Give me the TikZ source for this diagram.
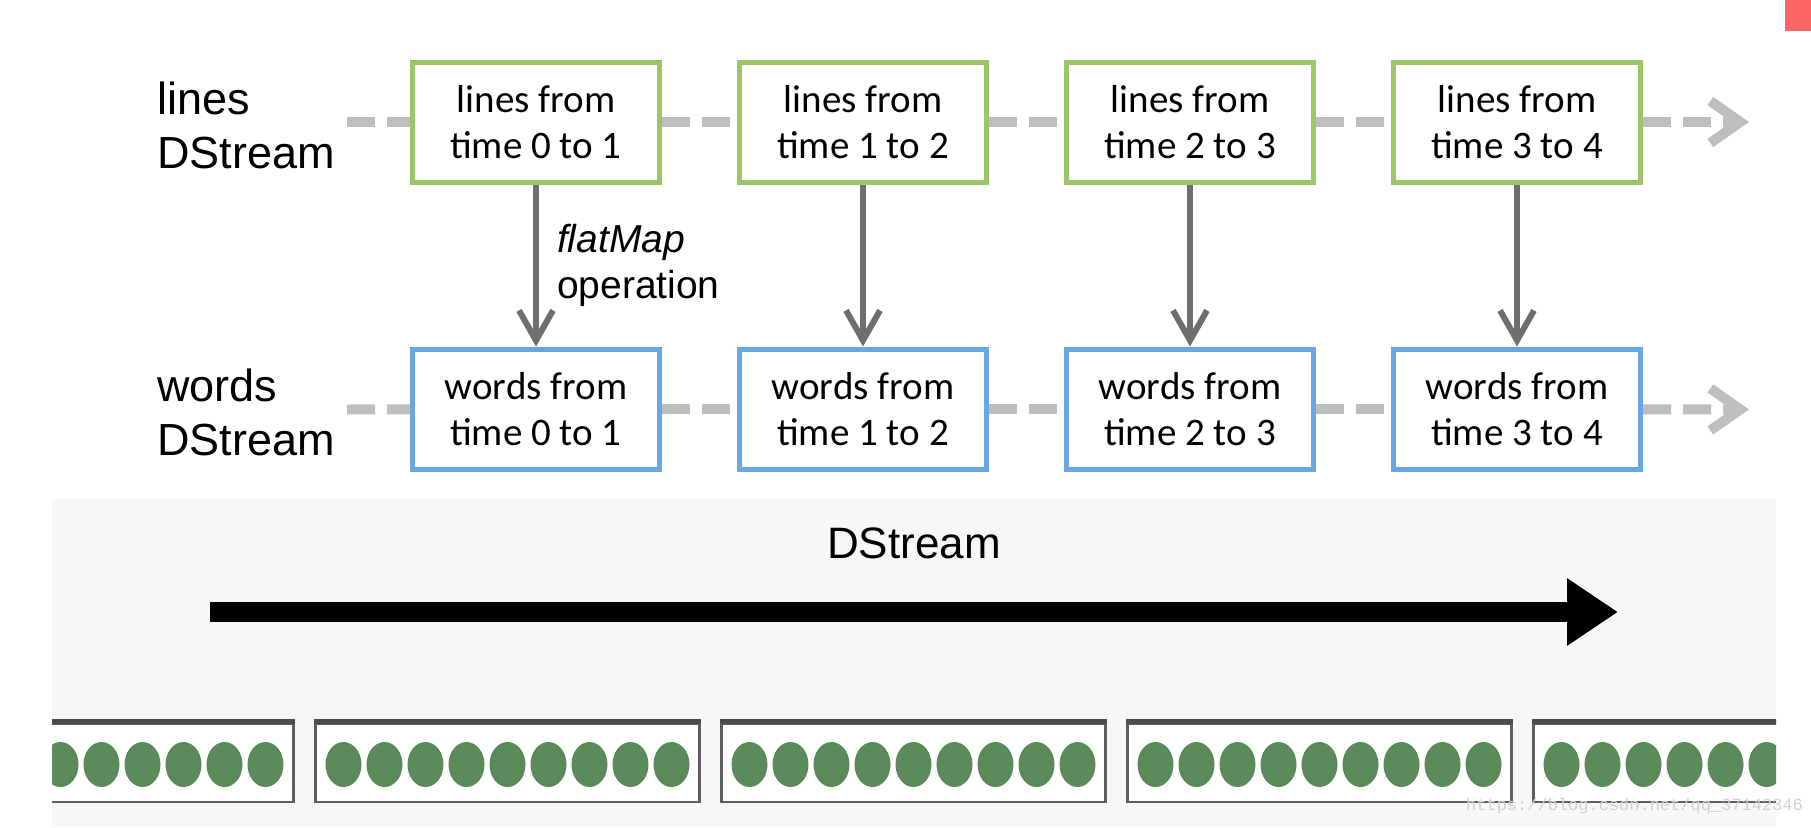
\documentclass[tikz,border=0pt]{standalone}
\usepackage{xcolor}
\usepackage{fontspec}
\setmainfont{Liberation Sans}
\newfontfamily\boxfont{Carlito}
\newfontfamily\markfont{Liberation Mono}
\usepackage{tikz}
\usetikzlibrary{positioning,arrows.meta}
\definecolor{linegreen}{HTML}{9DC56A}
\definecolor{wordblue}{HTML}{6AA6E2}
\definecolor{dashgray}{HTML}{BEBEBE}
\definecolor{opgray}{HTML}{6E6E6E}
\definecolor{panelbg}{HTML}{F8F7F5}
\definecolor{dotgreen}{HTML}{5A8A5A}
\definecolor{rddframe}{HTML}{5E5E5E}
\tikzset{
  linebox/.style={draw=linegreen, line width=5pt, fill=white, align=center,
    minimum width=247pt, minimum height=120pt, inner sep=0pt,
    font=\boxfont\fontsize{39}{46}\selectfont},
  wordbox/.style={linebox, draw=wordblue},
  streamlbl/.style={align=left, inner sep=0pt, font=\fontsize{45}{54}\selectfont},
  dstream/.style={-{Straight Barb[length=30pt,width=42pt]}, dashgray, line width=10pt,
    dash pattern=on 28pt off 12pt},
  opline/.style={-{Straight Barb[length=30pt,width=34pt]}, opgray, line width=6pt}
}

\begin{document}
\begin{tikzpicture}[
            x=1pt, y=-1pt,
            node distance=162pt and 75pt,
            oplbl/.style={anchor=west, inner sep=0pt, xshift=18pt, align=left, text=black,
              font=\fontsize{39}{46}\selectfont},
            rddbox/.style={draw=rddframe, line width=2.5pt, fill=white, minimum width=384pt,
              minimum height=78pt, inner sep=0pt},
            rddtop/.style={draw=black!70, line width=5pt},
            timearrow/.style={-{Triangle[length=51pt,width=64pt]}, line width=20pt, black}
            ]
            \useasboundingbox (0,0) rectangle (1811,827);

            \node (l1) [linebox] at (536,122) {lines from\\time 0 to 1};
            \node (l2) [linebox, right=of l1] {lines from\\time 1 to 2};
            \node (l3) [linebox, right=of l2] {lines from\\time 2 to 3};
            \node (l4) [linebox, right=of l3] {lines from\\time 3 to 4};

            \node (w1) [wordbox, below=of l1] {words from\\time 0 to 1};
            \node (w2) [wordbox, below=of l2] {words from\\time 1 to 2};
            \node (w3) [wordbox, below=of l3] {words from\\time 2 to 3};
            \node (w4) [wordbox, below=of l4] {words from\\time 3 to 4};

            \node (linelbl) [streamlbl, left=of l1, yshift=-3pt] {lines\\DStream};
            \node (wordlbl) [streamlbl, left=of w1, yshift=-3pt] {words\\DStream};

            % stream lines
            \coordinate (lstart) at (347,122);
            \coordinate (lend) at (1749,122);
            \coordinate (wstart) at (347,409.5);
            \coordinate (wend) at (1749,409.5);
            \draw[dstream, -] (lstart) -- (l1);
            \draw[dstream, -] (l1) -- (l2);
            \draw[dstream, -] (l2) -- (l3);
            \draw[dstream, -] (l3) -- (l4);
            \draw[dstream] (l4) -- (lend);
            \draw[dstream, -] (wstart) -- (w1);
            \draw[dstream, -] (w1) -- (w2);
            \draw[dstream, -] (w2) -- (w3);
            \draw[dstream, -] (w3) -- (w4);
            \draw[dstream] (w4) -- (wend);

            \draw[opline] (l1) -- node[oplbl] {\textit{flatMap}\\operation} (w1);
            \draw[opline] (l2) -- (w2);
            \draw[opline] (l3) -- (w3);
            \draw[opline] (l4) -- (w4);

            % DStream panel
            \fill[panelbg] (52,499) rectangle (1776,827);
            \node (title) [inner sep=0pt, font=\fontsize{44}{52}\selectfont] at (914,543) {DStream};
            \coordinate (tstart) at (210,612);
            \coordinate (tend) at (1618,612);
            \draw[timearrow] (tstart) -- (tend);

            \begin{scope}
            \clip (52,499) rectangle (1776,827);
            \foreach \i in {0,...,4} {
              \node (rdd\i) [rddbox] at (101.5+406*\i,763) {};
              \draw[rddtop] ([yshift=1.5pt]rdd\i.north west) -- ([yshift=1.5pt]rdd\i.north east);
              \foreach \j in {0,...,8}
                \fill[dotgreen] (rdd\i) ++(-164+41*\j,1.5) ellipse [x radius=18, y radius=22.5];
            }
            \end{scope}

            \node (mark) [anchor=east, inner sep=0pt, text=black!18,
              font=\markfont\fontsize{17}{20}\selectfont] at (1803,806) {https://blog.csdn.net/qq\_37142346};
            \fill[red!60] (1785,0) rectangle (1811,31);

      \end{tikzpicture}
\end{document}
